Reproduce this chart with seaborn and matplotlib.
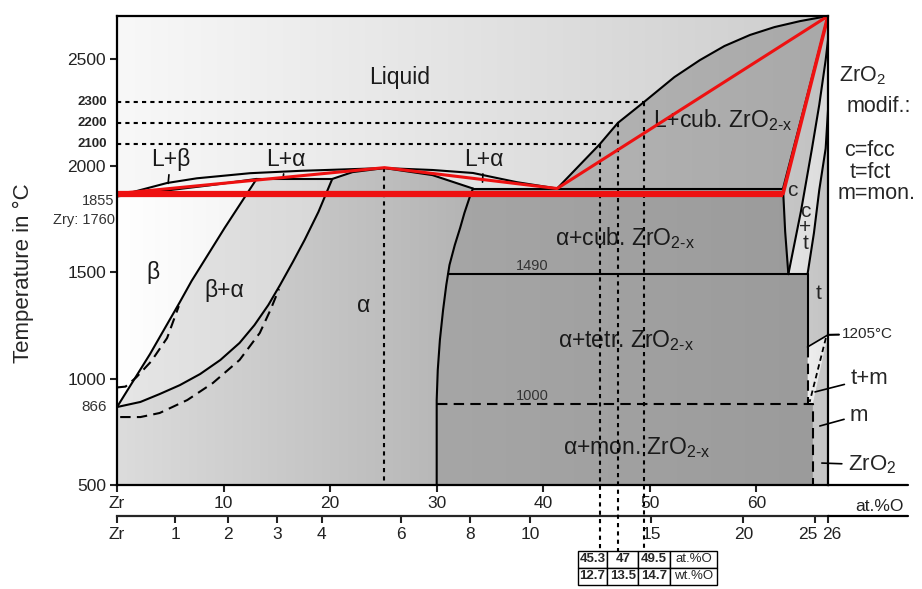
"""
Zr-O phase diagram (Zr - ZrO2) with simplified red construction lines
"""

import numpy as np
import matplotlib
matplotlib.use("Agg")
import matplotlib.pyplot as plt
import matplotlib.transforms as mtransforms
import seaborn as sns
from matplotlib.patches import Polygon
from matplotlib.colors import LinearSegmentedColormap

sns.set_style("ticks")
plt.rcParams['font.family'] = ['Liberation Sans', 'DejaVu Sans']
plt.rcParams['mathtext.fontset'] = 'custom'
plt.rcParams['mathtext.rm'] = 'Liberation Sans'
plt.rcParams['mathtext.it'] = 'Liberation Sans:italic'
plt.rcParams['mathtext.bf'] = 'Liberation Sans:bold'

# ---------------- data: composition in at.%O, temperature in degC ----------------
ZRO2 = 66.72
T_MIN, T_MAX = 500, 2702

# liquidus Zr side (L+beta, L+alpha)
liq_at = [0, 2.2, 4.7, 7.5, 12.5, 17.2, 25.1, 29.6, 33.4, 37.5, 41.3]
liq_T = [1855, 1885, 1918, 1940, 1964, 1975, 1988, 1979, 1965, 1922, 1892]
# liquidus of cubic ZrO2-x
cubliq_at = [41.3, 45.3, 47.0, 49.5, 52.3, 54.7, 57.0, 59.4, 61.7, 64.1, ZRO2]
cubliq_T = [1892, 2100, 2200, 2300, 2415, 2495, 2561, 2613, 2650, 2678, 2702]
# beta solidus
betasol_at = [0, 4.7, 8.7, 13.1]
betasol_T = [1855, 1883, 1907, 1937]
# beta / beta+alpha
beta_at = [0, 3.1, 5.9, 7.0, 10.1, 13.1]
beta_T = [866, 1115, 1359, 1458, 1707, 1937]
# beta+alpha / alpha
alpha_at = [0, 2.2, 4.0, 5.9, 7.8, 9.7, 11.5, 12.9, 14.2, 15.3, 16.5, 17.6, 18.9, 20.2]
alpha_T = [866, 890, 927, 969, 1021, 1087, 1167, 1251, 1345, 1439, 1547, 1650, 1782, 1937]
# alpha solidus (congruent maximum)
alphasol_at = [20.2, 22.1, 25.1, 29.6, 33.4]
alphasol_T = [1937, 1969, 1988, 1955, 1892]
# alpha / alpha+ZrO2-x
alphacub_at = [33.4, 33.1, 32.6, 32.2, 31.7, 31.2, 30.9, 30.6, 30.3, 30.1, 30.0, 30.0]
alphacub_T = [1892, 1852, 1777, 1707, 1627, 1533, 1439, 1322, 1181, 1040, 899, 500]
# ZrO2-rich side
c_at = [62.5, 62.7, 63.0]
c_T = [1892, 1690, 1490]
ct_at = [63.0, 64.2, 65.2, 65.9, 66.5, ZRO2]
ct_T = [1490, 1790, 2075, 2285, 2495, 2590]
tc_at = [64.8, 65.4, 65.9, 66.5, ZRO2]
tc_T = [1490, 1683, 1885, 2080, 2260]
t_at, m_at = 64.8, 65.3

# invariant temperatures
T_PERI = 1937
T_EUT = 1892
T_CUB_TETR = 1490
T_TETR_MON = 1205
T_MON_LINE = 880
T_T_BOTTOM = 1148

# Zircaloy (dashed) boundaries
zry_beta_at = [0, 0.8, 1.8, 3.2, 4.7, 5.8]
zry_beta_T = [958, 962, 1005, 1080, 1190, 1340]
zry_alpha_at = [0.3, 2.2, 4.0, 6.6, 9.0, 11.5, 13.4, 14.4, 15.2]
zry_alpha_T = [819, 819, 838, 899, 979, 1087, 1214, 1322, 1420]

# red simplified construction
red_T_line = 1868
red_at = [0, 25.1, 41.3, ZRO2]
red_T = [1868, 1990, 1892, 2702]
red2_at = [62.5, ZRO2]
red2_T = [1868, 2702]

# liquidus compositions marked by dotted lines and table
mark_T = [2100, 2200, 2300]
mark_at = [45.3, 47, 49.5]
mark_wt = [12.7, 13.5, 14.7]

at_ticks = [0, 10, 20, 30, 40, 50, 60]
wt_ticks = [0, 1, 2, 3, 4, 6, 8, 10, 15, 20, 25, 26]
T_ticks = [500, 1000, 1500, 2000, 2500]


def at_to_wt(a):
    a = np.asarray(a, dtype=float)
    with np.errstate(divide='ignore', invalid='ignore'):
        return 100 * 16.0 * a / (16.0 * a + 91.224 * (100 - a))


def wt_to_at(w):
    w = np.asarray(w, dtype=float)
    with np.errstate(divide='ignore', invalid='ignore'):
        n_o = w / 16.0
        n_zr = (100 - w) / 91.224
        return 100 * n_o / (n_o + n_zr)


def shade(ax, xs, ys, c0, c1, z=0.5):
    """Fill a polygon with a horizontal grey gradient"""
    poly = Polygon(np.column_stack([xs, ys]), closed=True,
                   facecolor='none', edgecolor='none')
    ax.add_patch(poly)
    cmap = LinearSegmentedColormap.from_list('g', [c0, c1])
    grad = np.linspace(0, 1, 256).reshape(1, -1)
    im = ax.imshow(grad, extent=[min(xs), max(xs), T_MIN, T_MAX], cmap=cmap,
                   aspect='auto', origin='lower', zorder=z, interpolation='bilinear')
    im.set_clip_path(poly)


def line(ax, x, y, **kw):
    kw.setdefault('color', 'black')
    kw.setdefault('lw', 1.5)
    sns.lineplot(x=x, y=y, sort=False, estimator=None, ax=ax, zorder=kw.pop('zorder', 3), **kw)


fig = plt.figure(figsize=(9.22, 5.89), dpi=100)
ax = fig.add_axes([117 / 922, 1 - 485 / 589, 711 / 922, 469 / 589])

# ---------------- shaded phase fields ----------------
shade(ax, [0, ZRO2, ZRO2, 0], [T_MIN, T_MIN, T_MAX, T_MAX], '#f8f8f8', '#cdcdcd', 0.1)
shade(ax, beta_at + betasol_at[::-1], beta_T + betasol_T[::-1], '#ffffff', '#f4f4f4')
shade(ax, beta_at + alpha_at[::-1], beta_T + alpha_T[::-1], '#e6e6e6', '#d8d8d8')
shade(ax, alpha_at + alphasol_at[1:] + alphacub_at[1:] + [0],
      alpha_T + alphasol_T[1:] + alphacub_T[1:] + [T_MIN], '#dcdcdc', '#b4b4b4')
shade(ax, alphacub_at + [m_at, m_at, t_at, t_at] + c_at[::-1],
      alphacub_T + [T_MIN, T_MON_LINE, T_MON_LINE, T_CUB_TETR] + c_T[::-1], '#a6a6a6', '#9b9b9b')
shade(ax, cubliq_at + [c_at[0]], cubliq_T + [T_EUT], '#b3b3b3', '#a9a9a9')
shade(ax, [c_at[0], ZRO2] + ct_at[::-1] + c_at[::-1][1:],
      [T_EUT, T_MAX] + ct_T[::-1] + c_T[::-1][1:], '#c6c6c6', '#c2c2c2')
shade(ax, ct_at + tc_at[::-1], ct_T + tc_T[::-1], '#e4e4e4', '#dcdcdc')
shade(ax, tc_at + [ZRO2, t_at], tc_T + [T_TETR_MON, T_T_BOTTOM], '#c8c8c8', '#c4c4c4')
shade(ax, [t_at, ZRO2, m_at, t_at], [T_T_BOTTOM, T_TETR_MON, T_MON_LINE, T_MON_LINE], '#eeeeee', '#e6e6e6')
shade(ax, [ZRO2, ZRO2, m_at, m_at], [T_TETR_MON, T_MIN, T_MIN, T_MON_LINE], '#c8c8c8', '#c6c6c6')

# ---------------- phase boundaries ----------------
for xs, ys in [(liq_at, liq_T), (cubliq_at, cubliq_T), (betasol_at, betasol_T),
               (beta_at, beta_T), (alpha_at, alpha_T), (alphasol_at, alphasol_T),
               (alphacub_at, alphacub_T), (c_at, c_T), (ct_at, ct_T), (tc_at, tc_T),
               ([c_at[0], ZRO2], [T_EUT, T_MAX])]:
    line(ax, xs, ys)
line(ax, [beta_at[-1], alpha_at[-1]], [T_PERI, T_PERI])
line(ax, [alphacub_at[0], c_at[0]], [T_EUT, T_EUT])
x1490 = np.interp(T_CUB_TETR, alphacub_T[::-1], alphacub_at[::-1])
line(ax, [x1490, t_at], [T_CUB_TETR, T_CUB_TETR])
line(ax, [t_at, t_at], [T_CUB_TETR, T_T_BOTTOM])
line(ax, [ZRO2, t_at], [T_TETR_MON, T_T_BOTTOM], lw=1.2)

dash = (0, (5, 3))
line(ax, zry_beta_at, zry_beta_T, linestyle=dash)
line(ax, zry_alpha_at, zry_alpha_T, linestyle=dash)
line(ax, [alphacub_at[-1], m_at, m_at], [T_MON_LINE, T_MON_LINE, T_MIN], linestyle=dash)
line(ax, [t_at, t_at], [T_T_BOTTOM, T_MON_LINE], linestyle=dash)
line(ax, [ZRO2 - 0.2, m_at - 0.3], [T_TETR_MON - 15, T_MON_LINE + 10], linestyle=(0, (3, 2)), lw=1.3)

# dotted construction lines
dot = (0, (2, 2))
T_table = T_MIN - 0.141 * (T_MAX - T_MIN)
line(ax, [alphasol_at[2], alphasol_at[2]], [alphasol_T[2], T_MIN], linestyle=dot, zorder=3.6)
for T, a in zip(mark_T, mark_at):
    ax.plot([0, a], [T, T], color='black', lw=1.5, linestyle=dot, zorder=3.6)
    ax.plot([a, a], [T, T_table], color='black', lw=1.5, linestyle=dot, zorder=3.6, clip_on=False)

# red simplified diagram
ax.plot([0, red2_at[0]], [red_T_line, red_T_line], color='#ee1111', lw=4.5, zorder=4,
        solid_capstyle='butt')
ax.plot(red_at, red_T, color='#ee1111', lw=2.2, zorder=4)
ax.plot(red2_at, red2_T, color='#ee1111', lw=2.6, zorder=4)

# ---------------- phase labels ----------------
fs = 16.5
sub = r'ZrO$_\text{2-x}$'
for txt, x, y in [("Liquid", 26.5, 2415), ("β", 3.4, 1500), ("β+α", 10.1, 1411),
                  ("α", 23.1, 1345), ("L+cub. " + sub, 56.8, 2214),
                  ("α+cub. " + sub, 47.7, 1660), ("α+tetr. " + sub, 47.8, 1176),
                  ("α+mon. " + sub, 48.8, 678)]:
    ax.text(x, y, txt, fontsize=fs, ha='center', va='center', color='#1a1a1a', zorder=3.5)
for txt, x, y, xy in [("L+β", 5.0, 2026, (4.8, 1916)), ("L+α", 15.8, 2030, (15.6, 1946)),
                      ("L+α", 34.4, 2030, (34.3, 1922))]:
    ax.annotate(txt, xy=xy, xytext=(x, y), fontsize=fs, ha='center', va='center', color='#1a1a1a',
                zorder=3.5, arrowprops=dict(arrowstyle='-', lw=1.2, color='black',
                                            shrinkA=0, shrinkB=0))
ax.text(39.0, 1528, "1490", fontsize=10.5, ha='center', va='center', color='#333333')
ax.text(39.0, 918, "1000", fontsize=10.5, ha='center', va='center', color='#333333')
ax.text(63.4, 1885, "c", fontsize=15, ha='center', va='center', zorder=5)
ax.text(64.6, 1711, "c\n+\nt", fontsize=15, ha='center', va='center', linespacing=0.8, zorder=5)
ax.text(65.8, 1397, "t", fontsize=15, ha='center', va='center', zorder=5)

# right-hand legend text
for txt, x, y in [(r"ZrO$_\mathregular{2}$", 1.049, 0.872), ("modif.:", 1.072, 0.806),
                  ("c=fcc", 1.059, 0.714), ("t=fct", 1.059, 0.667), ("m=mon.", 1.068, 0.622)]:
    ax.text(x, y, txt, fontsize=15.5, ha='center', va='center', transform=ax.transAxes)
for txt, xt, yt, xy in [("t+m", 1.058, 0.228, (65.5, 937)), ("m", 1.044, 0.149, (65.95, 777)),
                        (r"ZrO$_\mathregular{2}$", 1.062, 0.043, (66.14, 603))]:
    ax.annotate(txt, xy=xy, xytext=(xt, yt), textcoords='axes fraction', fontsize=16,
                ha='center', va='center', annotation_clip=False,
                arrowprops=dict(arrowstyle='-', lw=1.2, color='black', shrinkA=2, shrinkB=0))
ax.annotate("1205°C", xy=(66.85, T_TETR_MON), xytext=(1.020, 0.322), textcoords='axes fraction',
            fontsize=11, ha='left', va='center', annotation_clip=False,
            arrowprops=dict(arrowstyle='-', lw=1.5, color='black', shrinkA=0, shrinkB=0))

# ---------------- axes ----------------
ax.set_xlim(0, ZRO2)
ax.set_ylim(T_MIN, T_MAX)
for s in ax.spines.values():
    s.set_linewidth(1.6)
    s.set_color('black')
    s.set_zorder(6)

ax.set_yticks(T_ticks)
ax.tick_params(axis='y', labelsize=12.5, length=5, width=1.5, pad=3, colors='#222222')
ax.set_xticks(at_ticks)
ax.set_xticklabels(["Zr"] + [str(v) for v in at_ticks[1:]])
ax.tick_params(axis='x', labelsize=12.5, length=5, width=1.5, pad=3, colors='#222222')
ax.set_ylabel("Temperature in °C", fontsize=16)
ax.yaxis.set_label_coords(-0.117, 0.452)

ytr = ax.get_yaxis_transform()
for T in mark_T:
    ax.text(-0.014, T, str(T), transform=ytr, ha='right', va='center', fontsize=9.5,
            fontweight='bold')
ax.text(-0.003, 1835, "1855", transform=ytr, ha='right', va='center', fontsize=10.5, color='#333333')
ax.text(-0.003, 1746, "Zry: 1760", transform=ytr, ha='right', va='center', fontsize=10.5,
        color='#333333')
ax.text(-0.014, 866, "866", transform=ytr, ha='right', va='center', fontsize=11, color='#333333')

sec = ax.secondary_xaxis(-0.0661, functions=(at_to_wt, wt_to_at))
sec.set_xticks(wt_ticks)
sec.set_xticklabels(["Zr"] + [str(v) for v in wt_ticks[1:]])
sec.spines['bottom'].set_linewidth(1.6)
sec.tick_params(labelsize=12.5, length=5, width=1.5, pad=3, colors='#222222')
# push the crowded "25" / "26" labels apart as in the original
for lab in sec.get_xticklabels():
    shift = {"25": -7, "26": 4}.get(lab.get_text())
    if shift:
        lab.set_transform(lab.get_transform() +
                          mtransforms.ScaledTranslation(shift / 100, 0, fig.dpi_scale_trans))

# extend both composition axes past the ZrO2 edge
for yf in (0, -0.0661):
    ax.plot([1, 1.1125], [yf, yf], transform=ax.transAxes, color='black', lw=1.6, clip_on=False)
ax.text(1.073, -0.045, "at.%O", transform=ax.transAxes, ha='center', va='center',
        fontsize=12.5, color='#222222')

# composition table
tab = ax.table(cellText=[[f"{v:g}" for v in mark_at] + ["at.%O"],
                         [f"{v:g}" for v in mark_wt] + ["wt.%O"]],
               cellLoc='center', colWidths=[0.214, 0.221, 0.229, 0.336],
               bbox=[0.648, -0.2132, 0.1955, 0.0725])
tab.auto_set_font_size(False)
for (r, c), cell in tab.get_celld().items():
    cell.set_linewidth(1.0)
    cell.set_facecolor('white')
    cell.get_text().set_fontsize(9.5)
    if c < 3:
        cell.get_text().set_fontweight('bold')

fig.savefig("out.png", dpi=100)
plt.close(fig)
